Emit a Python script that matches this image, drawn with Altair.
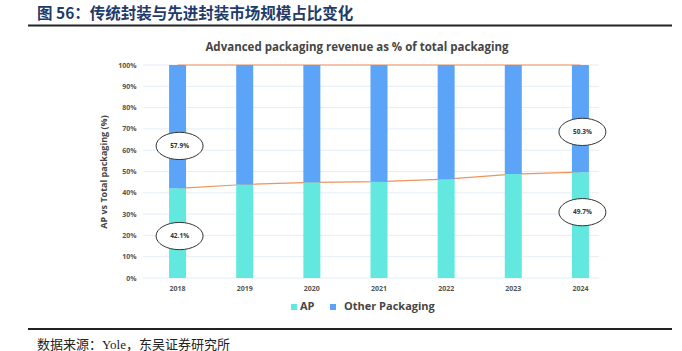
import altair as alt
import pandas as pd

# ---- data ----
years = ["2018", "2019", "2020", "2021", "2022", "2023", "2024"]
ap_share = [42.1, 43.9, 44.9, 45.2, 46.4, 48.8, 49.7]
other_share = [57.9, 56.1, 55.1, 54.8, 53.6, 51.2, 50.3]
total_share = [100, 100, 100, 100, 100, 100, 100]
y_ticks = [0, 10, 20, 30, 40, 50, 60, 70, 80, 90, 100]
callout_years = ["2018", "2018", "2024", "2024"]
callout_labels = ["57.9%", "42.1%", "50.3%", "49.7%"]
callout_y = [62.0, 19.7, 68.6, 30.9]
legend_labels = ["AP", "Other Packaging"]

fig_title = "图 56：传统封装与先进封装市场规模占比变化"
chart_title = "Advanced packaging revenue as % of total packaging"
y_title = "AP vs Total packaging (%)"
source_text = "数据来源：Yole，东吴证券研究所"

AP_COLOR = "#62E8DE"
OTHER_COLOR = "#5CA4F7"
LINE_COLOR = "#F0935A"
GRID_COLOR = "#E4EDF8"
TXT = "#454545"
FONT = "Open Sans"
CJK = "Noto Sans CJK SC"

df = pd.DataFrame({"year": years, "ap": ap_share, "other": other_share,
                   "total": total_share})
df["ap_top"] = df["ap"] + df["other"]
grid_df = pd.DataFrame({"v": y_ticks})
call_df = pd.DataFrame({"year": callout_years, "label": callout_labels, "y": callout_y})

xscale = alt.Scale(domain=years, paddingInner=0, paddingOuter=0)
xaxis = alt.Axis(title=None, labelAngle=0, domain=False, ticks=False,
                 labelPadding=6, labelFontSize=7, labelFontWeight="bold",
                 labelColor="#555", labelFont=FONT)
yscale = alt.Scale(domain=[0, 100], nice=False)
yaxis = alt.Axis(values=y_ticks, labelExpr="datum.value + '%'", grid=False,
                 domain=False, ticks=False, labelPadding=8, labelFontSize=7,
                 labelFontWeight="bold", labelColor="#555", labelFont=FONT,
                 title=y_title, titleFontSize=9, titleFontWeight="bold",
                 titleColor=TXT, titleFont=FONT, titlePadding=9)

def X():
    return alt.X("year:N", scale=xscale, axis=xaxis, sort=years)

base = alt.Chart(df)

grid = alt.Chart(grid_df).mark_rule(color=GRID_COLOR, strokeWidth=1).encode(
    y=alt.Y("v:Q", scale=yscale, axis=yaxis),
    x=alt.value(-1), x2=alt.value(455))

line_ap = base.mark_line(color=LINE_COLOR, strokeWidth=1.2).encode(
    x=X(), y=alt.Y("ap:Q", scale=yscale, axis=yaxis))
line_total = base.mark_line(color=LINE_COLOR, strokeWidth=1).encode(
    x=X(), y=alt.Y("total:Q", scale=yscale, axis=yaxis))

bar_ap = base.mark_bar(size=17, color=AP_COLOR).encode(
    x=X(), y=alt.Y("ap:Q", scale=yscale, axis=yaxis), y2=alt.datum(0))
bar_other = base.mark_bar(size=17, color=OTHER_COLOR).encode(
    x=X(), y=alt.Y("ap:Q", scale=yscale, axis=yaxis), y2="ap_top:Q")

ellipse_path = "M-1,0A1,0.58 0 1,1 1,0A1,0.58 0 1,1 -1,0Z"
ellipses = alt.Chart(call_df).mark_point(
    shape=ellipse_path, size=47 * 47, filled=True, fill="white",
    stroke="#333", strokeWidth=1, opacity=1, xOffset=2).encode(
    x=X(), y=alt.Y("y:Q", scale=yscale, axis=yaxis))
ell_text = alt.Chart(call_df).mark_text(
    font=FONT, fontSize=6.5, fontWeight="bold", color="#333", xOffset=2).encode(
    x=X(), y=alt.Y("y:Q", scale=yscale, axis=yaxis), text="label:N")

one = pd.DataFrame({"k": [0]})

def txt(text, x, y, **kw):
    return alt.Chart(one).mark_text(text=text, **kw).encode(
        x=alt.value(x), y=alt.value(y))

def rule(x1, x2, y):
    return alt.Chart(one).mark_rule(color="#222", strokeWidth=2).encode(
        x=alt.value(x1), x2=alt.value(x2), y=alt.value(y))

top_title = txt(fig_title, -107, -51.5, align="left", baseline="middle",
                font=CJK, fontSize=15.5, fontWeight="bold", color="#1F3B6B")
inner_title = txt(chart_title, 213, -17, align="center", baseline="middle",
                  font=FONT, fontSize=11.5, fontWeight="bold", color=TXT)
top_rule = rule(-116, 528, -39.5)
bottom_rule = rule(-116, 528, 264)
source = txt(source_text, -107, 280, align="left", baseline="middle",
             font="Liberation Serif, " + CJK, fontSize=13, color="#222")

leg_sq1 = alt.Chart(one).mark_square(size=36, color=AP_COLOR, opacity=1).encode(
    x=alt.value(150), y=alt.value(242))
leg_sq2 = alt.Chart(one).mark_square(size=36, color=OTHER_COLOR, opacity=1).encode(
    x=alt.value(189), y=alt.value(242))
leg_t1 = txt(legend_labels[0], 156, 242, align="left", baseline="middle",
             font=FONT, fontSize=11, fontWeight="bold", color=TXT)
leg_t2 = txt(legend_labels[1], 200, 242, align="left", baseline="middle",
             font=FONT, fontSize=11, fontWeight="bold", color=TXT)

chart = alt.layer(
    grid, line_total, line_ap, bar_ap, bar_other, ellipses, ell_text,
    top_title, inner_title, top_rule, bottom_rule, source,
    leg_sq1, leg_sq2, leg_t1, leg_t2
).properties(
    width=470, height=213,
    autosize=alt.AutoSizeParams(type="none"),
    padding={"left": 144, "top": 65, "right": 68, "bottom": 73},
    background="white",
).configure_view(stroke=None)

chart.save("out.html", embed_options={"renderer": "svg", "actions": False})
